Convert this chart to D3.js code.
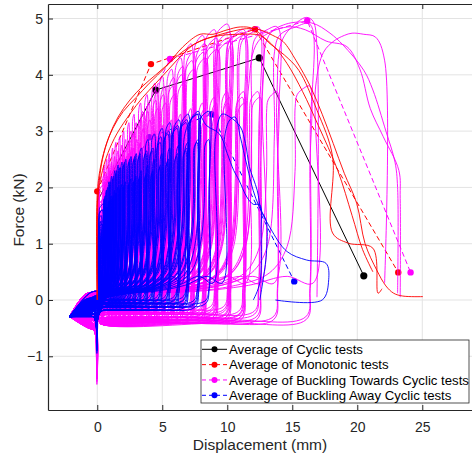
<!DOCTYPE html>
<html>
<head>
<meta charset="utf-8">
<script src="https://cdn.jsdelivr.net/npm/d3@7/dist/d3.min.js"></script>
<style>
  html, body { margin: 0; padding: 0; background: #fff; }
  svg { display: block; font-family: "Liberation Sans", Arial, sans-serif; }
</style>
</head>
<body>
<div id="chart"></div>
<script>
// tick labels
var xTicks = [0, 5, 10, 15, 20, 25];
var yTicks = [-1, 0, 1, 2, 3, 4, 5];

// loading protocol amplitudes (mm)
var towardsDisp = [0.2,0.4,0.6,0.8,1.0,1.25,1.5,1.8,2.1,2.5,2.9,3.4,3.9,4.5,5.1,5.8,6.5,7.3,8.2,9.1,10.1,11.2,12.4,13.7,16.2];
var awayDisp    = [0.15,0.3,0.45,0.6,0.8,1.0,1.25,1.5,1.8,2.1,2.5,2.9,3.3,3.8,4.3,4.9,5.5,6.2,6.9,7.7,8.6];

// buckling towards tests (magenta): peak force, repeat-cycle force, compression peak (kN)
var m1Peak = [1.6,1.9,2.1,2.2,2.3,2.4,2.5,2.6,2.7,2.85,3.0,3.2,3.35,3.55,3.65,3.8,4.0,4.25,4.4,4.55,4.65,4.75,4.85];
var m1Rep  = [1.3,1.5,1.7,1.8,1.9,2.0,2.1,2.2,2.3,2.4,2.5,2.6,2.7,2.8,2.9,3.0,3.1,3.2,3.3,3.4,3.5,3.6,3.7];
var m1Comp = [-0.4,-0.6,-0.8,-0.9,-1.0,-1.1,-1.2,-1.3,-1.4,-1.5,-1.45,-1.4,-1.3,-1.2,-1.1,-1.0,-0.9,-0.8,-0.7,-0.6,-0.55,-0.5,-0.5];
var m1Tail = [[13.6,0.3],[13.8,3.5],[14.2,4.6],[15.2,4.9],[16.1,5.02],[16.6,4.95],[16.9,4.5],[16.9,0.05]];

var m2Peak = [1.75,2.05,2.25,2.35,2.45,2.55,2.65,2.75,2.85,3.0,3.15,3.35,3.5,3.7,3.8,3.95,4.15,4.4,4.55,4.65,4.75,4.8];
var m2Rep  = [1.4,1.6,1.8,1.9,2.0,2.1,2.2,2.3,2.4,2.5,2.6,2.7,2.8,2.9,3.0,3.1,3.2,3.3,3.4,3.5,3.6,3.7];
var m2Comp = [-0.3,-0.5,-0.7,-0.85,-1.0,-1.1,-1.25,-1.35,-1.4,-1.3,-1.2,-1.1,-1.0,-0.9,-0.8,-0.7,-0.6,-0.55,-0.5,-0.45,-0.45,-0.4];
var m2Tail = [[12.5,0.3],[12.7,3.8],[13.2,4.7],[14.5,4.9],[16.5,4.92],[17.9,4.74],[18.9,4.53],[20.5,4.08],[21.2,3.73],[22.2,3.0],[22.9,2.45],[23.1,2.0],[23.1,0.12]];

var m3Peak = [1.9,2.2,2.4,2.5,2.6,2.7,2.8,2.9,3.0,3.15,3.3,3.5,3.65,3.85,3.97,4.1,4.3,4.55,4.7,4.8,4.9];
var m3Rep  = [1.5,1.7,1.9,2.0,2.1,2.2,2.3,2.4,2.5,2.6,2.7,2.8,2.9,3.0,3.1,3.2,3.3,3.4,3.5,3.6,3.7];
var m3Comp = [-0.5,-0.7,-0.9,-1.1,-1.2,-1.3,-1.35,-1.25,-1.15,-1.05,-0.95,-0.85,-0.75,-0.7,-0.65,-0.6,-0.55,-0.5,-0.45,-0.45,-0.4];
var m3Tail = [[11.4,0.3],[11.6,3.7],[12.4,4.6],[14.6,4.85],[16.0,4.8],[17.6,4.6],[19.2,4.5],[20.2,4.1],[21.0,3.4],[22.0,2.9],[23.2,2.3],[23.3,1.8],[23.3,0.05]];

var m4Peak = [1.45,1.75,1.95,2.05,2.15,2.25,2.35,2.45,2.55,2.7,2.85,3.05,3.2,3.4,3.5,3.65,3.85,4.1,4.3,4.45,4.6,4.7,4.8,4.85,4.9];
var m4Rep  = [1.2,1.4,1.6,1.7,1.8,1.9,2.0,2.1,2.2,2.3,2.4,2.5,2.6,2.7,2.8,2.9,3.0,3.1,3.2,3.3,3.4,3.5,3.6,3.7,3.8];
var m4Comp = [-0.35,-0.55,-0.75,-0.9,-1.05,-1.15,-1.25,-1.3,-1.2,-1.1,-1.0,-0.9,-0.85,-0.8,-0.75,-0.7,-0.65,-0.6,-0.55,-0.5,-0.45,-0.4,-0.4,-0.4,-0.4];
var m4Tail = [[16.6,0.3],[16.8,3.8],[17.4,4.4],[18.2,4.6],[19.0,4.7],[19.6,4.74],[20.5,4.72],[21.4,4.67],[22.1,4.26],[22.1,0.3]];

// buckling away tests (blue)
var b1Peak = [1.2,1.5,1.7,1.85,2.0,2.1,2.2,2.3,2.35,2.45,2.5,2.55,2.6,2.65,2.7,2.9,3.0,3.1,3.2,3.3,3.35];
var b1Rep  = [1.0,1.25,1.4,1.55,1.65,1.75,1.85,1.9,2.0,2.05,2.1,2.15,2.2,2.25,2.3,2.4,2.5,2.6,2.7,2.8,2.85];
var b1Comp = [-0.3,-0.4,-0.5,-0.6,-0.7,-0.8,-0.85,-0.9,-0.95,-0.9,-0.85,-0.8,-0.75,-0.7,-0.65,-0.6,-0.55,-0.5,-0.45,-0.4,-0.35];
var b1Tail = [[9.6,0.3],[9.8,2.9],[10.2,3.2],[10.6,3.25],[11.0,2.9],[11.5,2.4],[12.2,1.8],[13.3,1.28],[14.6,0.86],[16.1,0.71],[17.6,0.65],[17.8,0.36],[17.3,0.0],[13.7,0.0]];

var b2Peak = [1.3,1.6,1.8,1.95,2.1,2.2,2.3,2.4,2.45,2.5,2.55,2.6,2.7,2.85,2.95,3.05,3.15,3.2,3.3,3.35];
var b2Rep  = [1.1,1.35,1.5,1.65,1.75,1.85,1.95,2.0,2.05,2.1,2.15,2.2,2.3,2.4,2.5,2.6,2.7,2.75,2.8,2.85];
var b2Comp = [-0.35,-0.45,-0.55,-0.65,-0.75,-0.85,-0.9,-0.85,-0.8,-0.75,-0.7,-0.65,-0.6,-0.55,-0.5,-0.45,-0.4,-0.35,-0.3,-0.3];
var b2Tail = [[8.9,0.3],[9.1,2.9],[9.6,3.3],[10.2,3.25],[11.0,3.08],[11.4,2.78],[11.7,2.37],[12.3,1.95],[12.6,1.6],[13.0,1.4],[13.0,0.8],[12.5,0.0]];

var b3Peak = [1.0,1.4,1.6,1.8,1.95,2.05,2.15,2.25,2.35,2.4,2.45,2.5,2.55,2.6,2.65,2.8,2.95,3.05,3.15];
var b3Rep  = [0.9,1.2,1.35,1.5,1.6,1.7,1.8,1.9,1.95,2.0,2.05,2.1,2.15,2.2,2.25,2.35,2.45,2.55,2.65];
var b3Comp = [-0.3,-0.4,-0.5,-0.6,-0.7,-0.75,-0.8,-0.85,-0.8,-0.75,-0.7,-0.65,-0.6,-0.55,-0.5,-0.45,-0.4,-0.35,-0.3];
var b3Tail = [[6.5,0.3],[6.7,2.9],[7.2,3.2],[7.8,3.3],[8.4,3.1],[9.4,2.95],[10.0,2.6],[10.5,2.3],[10.9,2.13],[11.5,1.83],[12.0,1.7],[12.5,1.69],[12.6,1.2],[12.5,0.3],[12.0,0.0]];

// monotonic tests (red)
var mono1 = [[0,0],[0.02,1.5],[0.1,2.0],[0.4,2.5],[0.9,2.9],[1.6,3.25],[2.5,3.55],[3.5,3.8],[4.5,4.0],[5.5,4.2],[6.5,4.4],[7.5,4.55],[8.5,4.65],[9.5,4.72],[10.5,4.78],[11.5,4.82],[12.5,4.8],[13.5,4.7],[14.3,4.59],[15.3,4.25],[16.4,3.79],[17.3,3.3],[18.15,2.78],[19.0,2.25],[19.95,1.72],[20.6,1.0],[21.5,0.53],[22.2,0.25],[22.8,0.12],[23.5,0.07],[25.05,0.06]];
var mono2 = [[0,0],[0,1.9],[0.2,2.3],[0.6,2.7],[1.2,3.05],[2.0,3.35],[3.0,3.6],[4.0,3.85],[5.3,4.15],[6.6,4.5],[7.9,4.72],[8.9,4.72],[10,4.8],[11,4.85],[12,4.82],[13.3,4.55],[14.4,4.35],[15.5,4.08],[16.9,3.37],[18.1,2.55],[18.1,1.19],[19.3,1.01],[21.2,0.92],[21.6,0.12],[21.9,0.2]];
var mono3 = [[0,0],[0,1.7],[0.3,2.2],[0.8,2.6],[1.5,2.95],[2.5,3.3],[3.5,3.6],[4.5,3.85],[5.5,4.1],[6.5,4.35],[7.5,4.55],[8.5,4.65],[9.5,4.7],[11,4.72],[12.5,4.7],[13.6,4.5],[14.6,4.2],[15.8,3.7],[17.0,3.1],[18.5,2.3],[19.6,1.5],[20.4,0.9],[21.2,0.5]];

// averages
var avgCyclic     = [[0,1.75],[4.5,3.73],[12.46,4.30],[20.5,0.43]];
var avgMonotonic  = [[0,1.93],[4.13,4.19],[12.13,4.81],[23.15,0.49]];
var avgTowards    = [[0,1.6],[5.59,4.28],[16.15,4.96],[24.1,0.49]];
var avgAway       = [[0,1.33],[4.0,2.89],[8.8,3.30],[15.15,0.33]];

var legendLabels = ["Average of Cyclic tests", "Average of Monotonic tests",
  "Average of Buckling Towards Cyclic tests", "Average of Buckling Away Cyclic tests"];

var W = 472, H = 457;
var x = d3.scaleLinear().domain([-3.79, 30.1]).range([48, 488.6]);
var y = d3.scaleLinear().domain([-1.954, 5.258]).range([410, 4]);

var svg = d3.select("#chart").append("svg").attr("width", W).attr("height", H);

// grid
svg.append("g").selectAll("line").data(xTicks).enter().append("line")
  .attr("x1", function(d){ return x(d); }).attr("x2", function(d){ return x(d); })
  .attr("y1", 4).attr("y2", 410).attr("stroke", "#e3e3e3").attr("stroke-width", 1);
svg.append("g").selectAll("line").data(yTicks).enter().append("line")
  .attr("y1", function(d){ return y(d); }).attr("y2", function(d){ return y(d); })
  .attr("x1", 48).attr("x2", W).attr("stroke", "#e3e3e3").attr("stroke-width", 1);

svg.append("clipPath").attr("id", "plotclip").append("rect")
  .attr("x", 48).attr("y", 4).attr("width", 460).attr("height", 406);

var plot = svg.append("g").attr("clip-path", "url(#plotclip)");
var line = d3.line().x(function(d){ return x(d[0]); }).y(function(d){ return y(d[1]); })
  .curve(d3.curveCatmullRom.alpha(0.5));
var straight = d3.line().x(function(d){ return x(d[0]); }).y(function(d){ return y(d[1]); });

// average lines go underneath the raw curves; the start markers of the cyclic averages are buried
var avgs = [
  {data: avgCyclic, color: "#000000", dash: null, r: 3.6, first: false},
  {data: avgMonotonic, color: "#ff0000", dash: "5,3", r: 3.2, first: true},
  {data: avgTowards, color: "#ff00ff", dash: "5,3", r: 3.2, first: false},
  {data: avgAway, color: "#0000ff", dash: "5,3", r: 3.2, first: false}
];
avgs.forEach(function(a){
  plot.append("path").attr("d", straight(a.data)).attr("fill", "none")
    .attr("stroke", a.color).attr("stroke-width", 1).attr("stroke-dasharray", a.dash);
  plot.selectAll(null).data(a.first ? a.data : a.data.slice(1)).enter().append("circle")
    .attr("cx", function(d){ return x(d[0]); }).attr("cy", function(d){ return y(d[1]); })
    .attr("r", a.r).attr("fill", a.color);
});

// one load cycle: compression corner -> reloading sweep -> peak -> unload -> compression spike
function loop(dp, fp, fc, b, w) {
  var r = dp < 0.5 ? dp * 0.3 : dp - w;
  var mid = Math.min(0.14, -0.32 + 0.11 * fp);
  var pts = [[-2.1,-0.28],[-1.0, mid - 0.05],[-0.4, mid],[0, Math.min(0.16, mid + 0.04)]];
  if (r > 0.6) pts.push([0.4*r,0.14],[0.7*r,0.26],[0.87*r,0.48],[0.96*r,0.95]);
  pts.push([r, fp*0.6],[r+0.01, fp*0.9],[r+0.15*(dp-r), fp*0.96],[r+0.6*(dp-r), fp*0.99],[dp, fp],[dp+0.02, fp*0.6],[dp+0.02, 0.2]);
  if (dp > 1) pts.push([dp-0.3, b+0.05],[0.6*dp, b]);
  pts.push([0.25, b-0.02],[0.04,-0.3],[-0.03, fc],[-0.3, b-0.12],[-2.1,-0.3]);
  return pts;
}

function drawTest(disp, shift, peak, rep, comp, tail, color, b) {
  var g = plot.append("g").attr("fill", "none").attr("stroke", color).attr("stroke-width", 0.9);
  for (var i = 0; i < peak.length; i++) {
    var d = disp[i] + shift;
    g.append("path").attr("d", line(loop(d, peak[i], comp[i], b, 0.06 + 0.01*d*d)));
    g.append("path").attr("d", line(loop(d - 0.03, rep[i], comp[i]*0.8, b+0.05, 0.05 + 0.004*d*d)));
  }
  var r = tail[0][0];
  var pre = [[-2.1,-0.28],[-0.6,0.12],[0,0.16],[0.4*r,0.14],[0.7*r,0.26],[0.88*r,0.42]];
  g.append("path").attr("d", line(pre.concat(tail)));
}

drawTest(towardsDisp, 0, m1Peak, m1Rep, m1Comp, m1Tail, "#ff00ff", -0.3);
drawTest(towardsDisp, 0.09, m2Peak, m2Rep, m2Comp, m2Tail, "#ff00ff", -0.36);
drawTest(towardsDisp, -0.07, m3Peak, m3Rep, m3Comp, m3Tail, "#ff00ff", -0.22);
drawTest(towardsDisp, 0.16, m4Peak, m4Rep, m4Comp, m4Tail, "#ff00ff", -0.4);
drawTest(awayDisp, 0, b1Peak, b1Rep, b1Comp, b1Tail, "#0000ff", -0.12);
drawTest(awayDisp, 0.1, b2Peak, b2Rep, b2Comp, b2Tail, "#0000ff", -0.18);
drawTest(awayDisp, -0.06, b3Peak, b3Rep, b3Comp, b3Tail, "#0000ff", -0.06);

[mono1, mono2, mono3].forEach(function(m){
  plot.append("path").attr("d", line(m)).attr("fill", "none").attr("stroke", "#ff0000").attr("stroke-width", 0.9);
});

// axes
var axisColor = "#262626";
var gBottom = svg.append("g").attr("transform", "translate(0,410)")
  .call(d3.axisBottom(x).tickValues(xTicks).tickSizeInner(-5).tickSizeOuter(0).tickPadding(12));
var gTop = svg.append("g").attr("transform", "translate(0,4)")
  .call(d3.axisTop(x).tickValues(xTicks).tickSizeInner(-5).tickSizeOuter(0).tickFormat(""));
var gLeft = svg.append("g").attr("transform", "translate(48,0)")
  .call(d3.axisLeft(y).tickValues(yTicks).tickSizeInner(-5).tickSizeOuter(0).tickPadding(5));
[gBottom, gTop, gLeft].forEach(function(g){
  g.select(".domain").attr("stroke", axisColor).attr("stroke-width", 1.2);
  g.selectAll(".tick line").attr("stroke", axisColor);
  g.selectAll("text").attr("fill", axisColor).style("font-size", "14px")
    .style("font-family", "'Liberation Sans', Arial, sans-serif");
});

svg.append("text").attr("x", 260).attr("y", 450).attr("text-anchor", "middle")
  .style("font-size", "15.5px").attr("fill", axisColor).text("Displacement (mm)");
svg.append("text").attr("transform", "translate(24,210) rotate(-90)").attr("text-anchor", "middle")
  .style("font-size", "15.5px").attr("fill", axisColor).text("Force (kN)");

// legend
var lg = svg.append("g");
lg.append("rect").attr("x", 201).attr("y", 340).attr("width", 268).attr("height", 63)
  .attr("fill", "#fff").attr("stroke", axisColor).attr("stroke-width", 0.8);
var rowY = d3.scalePoint().domain(d3.range(4)).range([349.3, 395.3]);
avgs.forEach(function(a, i){
  var yy = rowY(i);
  lg.append("line").attr("x1", 202).attr("x2", 227).attr("y1", yy).attr("y2", yy)
    .attr("stroke", a.color).attr("stroke-width", 1).attr("stroke-dasharray", a.dash ? "4,3" : null);
  lg.append("circle").attr("cx", 214.5).attr("cy", yy).attr("r", 3).attr("fill", a.color);
  lg.append("text").attr("x", 229).attr("y", yy).attr("dy", "0.35em")
    .style("font-size", "13.2px").attr("fill", "#000").text(legendLabels[i]);
});
</script>
</body>
</html>
